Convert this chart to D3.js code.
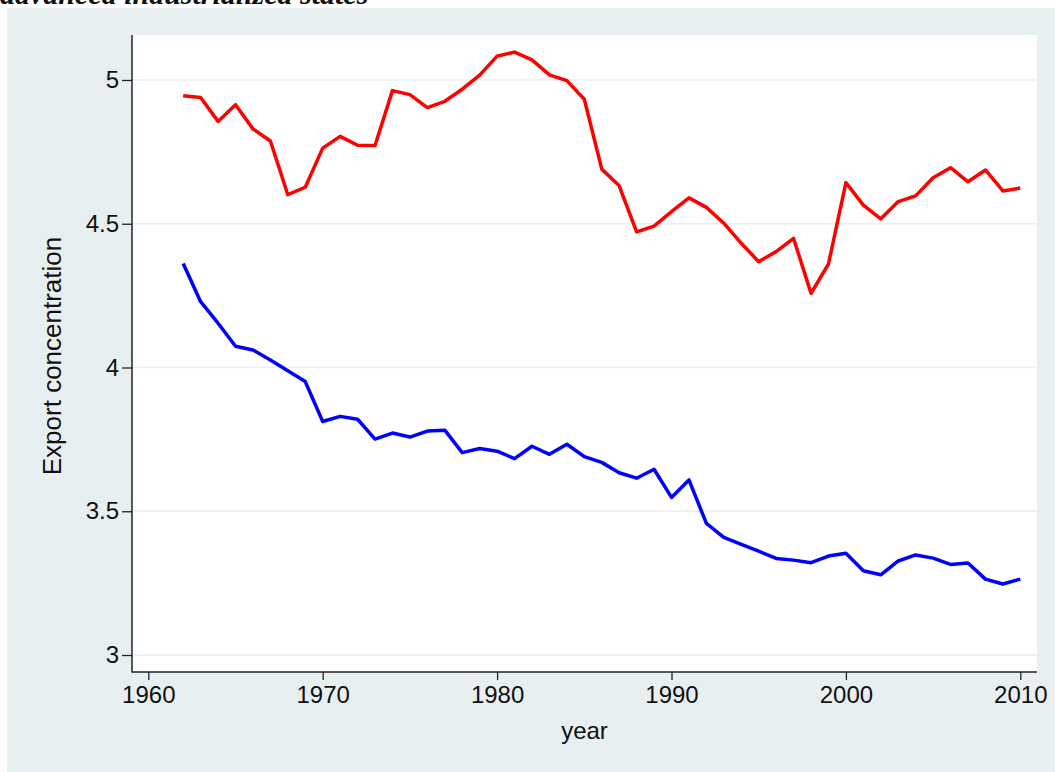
<!DOCTYPE html>
<html>
<head>
<meta charset="utf-8">
<script src="https://d3js.org/d3.v7.min.js"></script>
<style>
  body { margin: 0; background: #ffffff; }
  svg text { font-family: "Liberation Sans", Arial, sans-serif; fill: #111; }
</style>
</head>
<body>
<div id="chart"></div>
<script>
// data
var years = d3.range(1962, 2011);
var redSeries = [4.945, 4.939, 4.856, 4.914, 4.830, 4.788, 4.601, 4.627, 4.763, 4.804,
  4.773, 4.772, 4.963, 4.949, 4.904, 4.926, 4.968, 5.017, 5.083, 5.097,
  5.070, 5.018, 4.998, 4.933, 4.690, 4.632, 4.472, 4.492, 4.542, 4.590,
  4.557, 4.502, 4.432, 4.368, 4.403, 4.449, 4.258, 4.360, 4.643, 4.565,
  4.517, 4.577, 4.597, 4.660, 4.695, 4.646, 4.687, 4.614, 4.624];
var blueSeries = [4.362, 4.229, 4.154, 4.074, 4.061, 4.026, 3.989, 3.951, 3.812, 3.830,
  3.820, 3.751, 3.772, 3.758, 3.779, 3.782, 3.704, 3.718, 3.709, 3.683,
  3.726, 3.698, 3.733, 3.690, 3.670, 3.634, 3.615, 3.646, 3.548, 3.609,
  3.458, 3.409, 3.385, 3.361, 3.336, 3.330, 3.321, 3.344, 3.354, 3.293,
  3.279, 3.327, 3.348, 3.337, 3.315, 3.320, 3.264, 3.247, 3.264];
var xTicks = [1960, 1970, 1980, 1990, 2000, 2010];
var yTicks = [3, 3.5, 4, 4.5, 5];

var svgWidth = 1055;
var svgHeight = 772;
var plot = {left: 132, top: 35, right: 1037, bottom: 672};

var svg = d3.select("#chart").append("svg")
  .attr("width", svgWidth).attr("height", svgHeight);

// outer grey panel and white plot region
svg.append("rect").attr("x", 7).attr("y", 8)
  .attr("width", svgWidth - 7).attr("height", svgHeight - 8)
  .attr("fill", "#e8eff1");
svg.append("rect").attr("x", plot.left).attr("y", plot.top)
  .attr("width", plot.right - plot.left).attr("height", plot.bottom - plot.top)
  .attr("fill", "#ffffff");

// title, cut off at the very top as in the picture
svg.append("text")
  .attr("x", 0).attr("y", 4)
  .style("font-family", "'Liberation Serif', serif")
  .style("font-weight", "bold").style("font-style", "italic")
  .style("font-size", "30px")
  .text("advanced industrialized states");

var x = d3.scaleLinear().domain([1960, 2010]).range([148.3, 1020.3]);
var y = d3.scaleLinear().domain([3, 5]).range([655, 80]);

// gridlines
svg.append("g").selectAll("line").data(yTicks).enter().append("line")
  .attr("x1", plot.left).attr("x2", plot.right)
  .attr("y1", d => y(d)).attr("y2", d => y(d))
  .attr("stroke", "#e9f0f3").attr("stroke-width", 1.6);

// axes
var leftAxis = d3.axisLeft(y).tickValues(yTicks).tickFormat(d3.format("")).tickSize(10).tickPadding(3);
var bottomAxis = d3.axisBottom(x).tickValues(xTicks).tickFormat(d3.format("d")).tickSize(8).tickPadding(6);

var yAxisG = svg.append("g").attr("transform", `translate(${plot.left}, 0)`).call(leftAxis);
var xAxisG = svg.append("g").attr("transform", `translate(0, ${plot.bottom})`).call(bottomAxis);

[yAxisG, xAxisG].forEach(function(g) {
  g.select(".domain").remove();
  g.selectAll("line").attr("stroke", "#222").attr("stroke-width", 1.3);
  g.selectAll("text").style("font-size", "24px").attr("fill", "#111");
});

// axis lines
svg.append("line").attr("x1", plot.left).attr("x2", plot.left)
  .attr("y1", plot.top).attr("y2", plot.bottom + 0.5)
  .attr("stroke", "#222").attr("stroke-width", 1.5);
svg.append("line").attr("x1", plot.left).attr("x2", plot.right)
  .attr("y1", plot.bottom).attr("y2", plot.bottom)
  .attr("stroke", "#222").attr("stroke-width", 1.5);

// lines
var line = d3.line().x((d, i) => x(years[i])).y(d => y(d));
svg.append("path").datum(redSeries).attr("d", line)
  .attr("fill", "none").attr("stroke", "#ff0000").attr("stroke-width", 3.5)
  .attr("stroke-linejoin", "round");
svg.append("path").datum(blueSeries).attr("d", line)
  .attr("fill", "none").attr("stroke", "#0000ff").attr("stroke-width", 3.5)
  .attr("stroke-linejoin", "round");

// axis titles
svg.append("text")
  .attr("x", (plot.left + plot.right) / 2).attr("y", 739)
  .attr("text-anchor", "middle").style("font-size", "24px")
  .text("year");
svg.append("text")
  .attr("transform", "rotate(-90)")
  .attr("x", -356).attr("y", 61)
  .attr("text-anchor", "middle").style("font-size", "26px")
  .text("Export concentration");
</script>
</body>
</html>
